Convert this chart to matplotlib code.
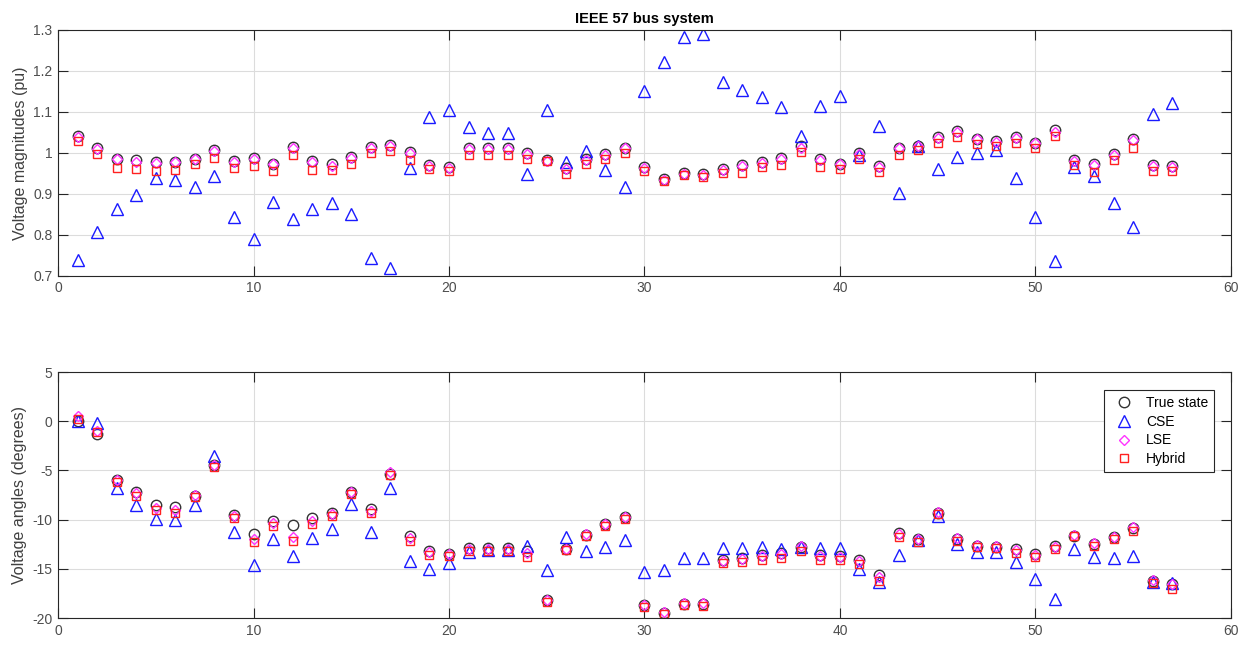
import matplotlib
matplotlib.use("Agg")
import matplotlib.pyplot as plt
from matplotlib.ticker import FuncFormatter
import numpy as np

plt.rcParams["font.family"] = ["Liberation Sans", "DejaVu Sans"]
plt.rcParams["axes.unicode_minus"] = False

buses = np.arange(1, 58)

true_mag = [1.042, 1.012, 0.986, 0.982, 0.977, 0.979, 0.986, 1.007, 0.981, 0.987,
            0.974, 1.015, 0.981, 0.972, 0.990, 1.015, 1.020, 1.002, 0.971, 0.965,
            1.011, 1.012, 1.013, 1.000, 0.983, 0.962, 0.984, 0.998, 1.013, 0.965,
            0.937, 0.950, 0.948, 0.961, 0.970, 0.978, 0.988, 1.016, 0.984, 0.974,
            0.999, 0.968, 1.013, 1.018, 1.040, 1.053, 1.035, 1.030, 1.040, 1.025,
            1.055, 0.983, 0.973, 0.998, 1.034, 0.970, 0.968]
cse_mag = [0.738, 0.806, 0.863, 0.898, 0.938, 0.933, 0.917, 0.944, 0.844, 0.790,
           0.879, 0.838, 0.863, 0.877, 0.852, 0.744, 0.719, 0.962, 1.088, 1.105,
           1.064, 1.049, 1.049, 0.948, 1.105, 0.979, 1.005, 0.958, 0.917, 1.151,
           1.222, 1.284, 1.289, 1.173, 1.153, 1.136, 1.112, 1.042, 1.115, 1.140,
           0.996, 1.066, 0.903, 1.017, 0.960, 0.991, 0.999, 1.007, 0.939, 0.844,
           0.737, 0.966, 0.943, 0.877, 0.819, 1.096, 1.121]
lse_mag = [1.040, 1.009, 0.984, 0.979, 0.975, 0.977, 0.984, 1.004, 0.979, 0.985,
           0.972, 1.012, 0.979, 0.969, 0.988, 1.013, 1.018, 0.999, 0.969, 0.963,
           1.009, 1.010, 1.010, 0.998, 0.981, 0.960, 0.982, 0.996, 1.011, 0.963,
           0.935, 0.948, 0.946, 0.959, 0.968, 0.976, 0.986, 1.013, 0.982, 0.972,
           0.997, 0.966, 1.011, 1.016, 1.037, 1.050, 1.033, 1.027, 1.037, 1.023,
           1.052, 0.980, 0.971, 0.996, 1.031, 0.968, 0.966]
hyb_mag = [1.030, 0.997, 0.964, 0.961, 0.956, 0.958, 0.974, 0.987, 0.962, 0.968,
           0.956, 0.995, 0.959, 0.959, 0.974, 1.000, 1.005, 0.982, 0.961, 0.956,
           0.995, 0.996, 0.996, 0.985, 0.980, 0.948, 0.972, 0.985, 1.000, 0.956,
           0.932, 0.945, 0.942, 0.950, 0.952, 0.965, 0.971, 1.001, 0.966, 0.961,
           0.984, 0.953, 0.996, 1.007, 1.025, 1.038, 1.022, 1.017, 1.025, 1.011,
           1.042, 0.970, 0.954, 0.983, 1.013, 0.956, 0.956]

true_ang = [0.0, -1.26, -5.95, -7.21, -8.50, -8.67, -7.62, -4.49, -9.56, -11.5,
            -10.14, -10.54, -9.83, -9.35, -7.14, -8.91, -5.34, -11.71, -13.2, -13.47,
            -12.93, -12.9, -12.93, -13.16, -18.2, -13.0, -11.53, -10.48, -9.76, -18.7,
            -19.46, -18.54, -18.6, -14.15, -13.9, -13.6, -13.44, -12.76, -13.57, -13.67,
            -14.08, -15.61, -11.39, -12.0, -9.29, -11.97, -12.65, -12.76, -13.0, -13.5,
            -12.72, -11.63, -12.48, -11.8, -10.85, -16.22, -16.56]
cse_ang = [0.0, -0.14, -6.77, -8.50, -9.96, -10.03, -8.50, -3.54, -11.29, -14.59,
           -11.97, -13.67, -11.84, -11.0, -8.44, -11.29, -6.77, -14.25, -15.03, -14.4,
           -13.27, -13.1, -13.1, -12.65, -15.14, -11.8, -13.23, -12.76, -12.04, -15.37,
           -15.14, -13.9, -13.9, -12.93, -12.93, -12.83, -13.0, -12.83, -12.93, -12.93,
           -15.03, -16.33, -13.57, -12.1, -9.59, -12.48, -13.33, -13.33, -14.35, -15.99,
           -18.1, -13.0, -13.78, -13.9, -13.67, -16.33, -16.39]
lse_ang = [0.5, -1.0, -6.0, -7.3, -8.8, -9.0, -7.5, -4.4, -9.65, -12.0,
           -10.3, -11.8, -10.1, -9.4, -7.2, -9.1, -5.2, -11.9, -13.3, -13.5,
           -13.0, -12.95, -13.0, -13.4, -18.15, -12.95, -11.45, -10.4, -9.7, -18.65,
           -19.4, -18.45, -18.5, -14.2, -14.0, -13.7, -13.5, -12.7, -13.7, -13.8,
           -14.2, -15.8, -11.45, -12.0, -9.2, -11.9, -12.6, -12.7, -13.1, -13.55,
           -12.75, -11.55, -12.4, -11.75, -10.7, -16.1, -16.5]
hyb_ang = [0.27, -1.09, -6.19, -7.62, -9.0, -9.29, -7.72, -4.69, -9.86, -12.24,
           -10.68, -12.18, -10.44, -9.59, -7.38, -9.32, -5.51, -12.14, -13.6, -13.67,
           -13.2, -13.16, -13.2, -13.84, -18.37, -13.1, -11.63, -10.61, -9.93, -18.84,
           -19.6, -18.7, -18.75, -14.4, -14.35, -14.08, -13.88, -13.16, -14.1, -14.08,
           -14.52, -16.22, -11.8, -12.31, -9.42, -12.14, -12.82, -12.93, -13.4, -13.84,
           -13.0, -11.7, -12.65, -11.97, -11.12, -16.46, -17.07]

series_labels = ["True state", "CSE", "LSE", "Hybrid"]
styles = [
    dict(marker="o", color="#333333", ms=7.5),
    dict(marker="^", color="#1a1aff", ms=8),
    dict(marker="D", color="#ff33ff", ms=5.5),
    dict(marker="s", color="#ff2020", ms=5.5),
]


def style_axes(ax, ylim, yticks):
    ax.set_xlim(0, 60)
    ax.set_xticks(range(0, 61, 10))
    ax.set_ylim(*ylim)
    ax.set_yticks(yticks)
    ax.yaxis.set_major_formatter(FuncFormatter(lambda v, p: f"{v:g}"))
    ax.grid(True, color="#dcdcdc", linewidth=0.8)
    ax.set_axisbelow(True)
    ax.tick_params(direction="in", top=True, right=True, labelsize=10,
                   color="#262626", labelcolor="#4d4d4d", length=7, pad=4)
    for s in ax.spines.values():
        s.set_color("#262626")
        s.set_linewidth(0.8)


fig = plt.figure(figsize=(12.56, 6.46), dpi=100)
ax1 = fig.add_axes([0.0462, 0.573, 0.9338, 0.3806])
ax2 = fig.add_axes([0.0462, 0.0433, 0.9338, 0.3807])

for data, st, lab in zip([true_mag, cse_mag, lse_mag, hyb_mag], styles, series_labels):
    ax1.plot(buses, data, linestyle="none", marker=st["marker"], markersize=st["ms"],
             markerfacecolor="none", markeredgecolor=st["color"], markeredgewidth=1.0,
             label=lab)
for data, st, lab in zip([true_ang, cse_ang, lse_ang, hyb_ang], styles, series_labels):
    ax2.plot(buses, data, linestyle="none", marker=st["marker"], markersize=st["ms"],
             markerfacecolor="none", markeredgecolor=st["color"], markeredgewidth=1.0,
             label=lab)

style_axes(ax1, (0.7, 1.3), np.arange(0.7, 1.31, 0.1).round(1))
style_axes(ax2, (-20, 5), range(-20, 6, 5))

ax1.set_ylabel("Voltage magnitudes (pu)", fontsize=11.5, color="#404040")
ax2.set_ylabel("Voltage angles (degrees)", fontsize=11.5, color="#404040")
ax1.set_title("IEEE 57 bus system", fontsize=10.5, fontweight="bold", pad=5)

leg = ax2.legend(loc="upper right", bbox_to_anchor=(0.9915, 0.955), fontsize=10,
                 fancybox=False, framealpha=1, edgecolor="#262626",
                 handletextpad=0.6, borderpad=0.4, labelspacing=0.35,
                 handlelength=2.0)
leg.get_frame().set_linewidth(0.8)

fig.savefig("out.png", dpi=100)
